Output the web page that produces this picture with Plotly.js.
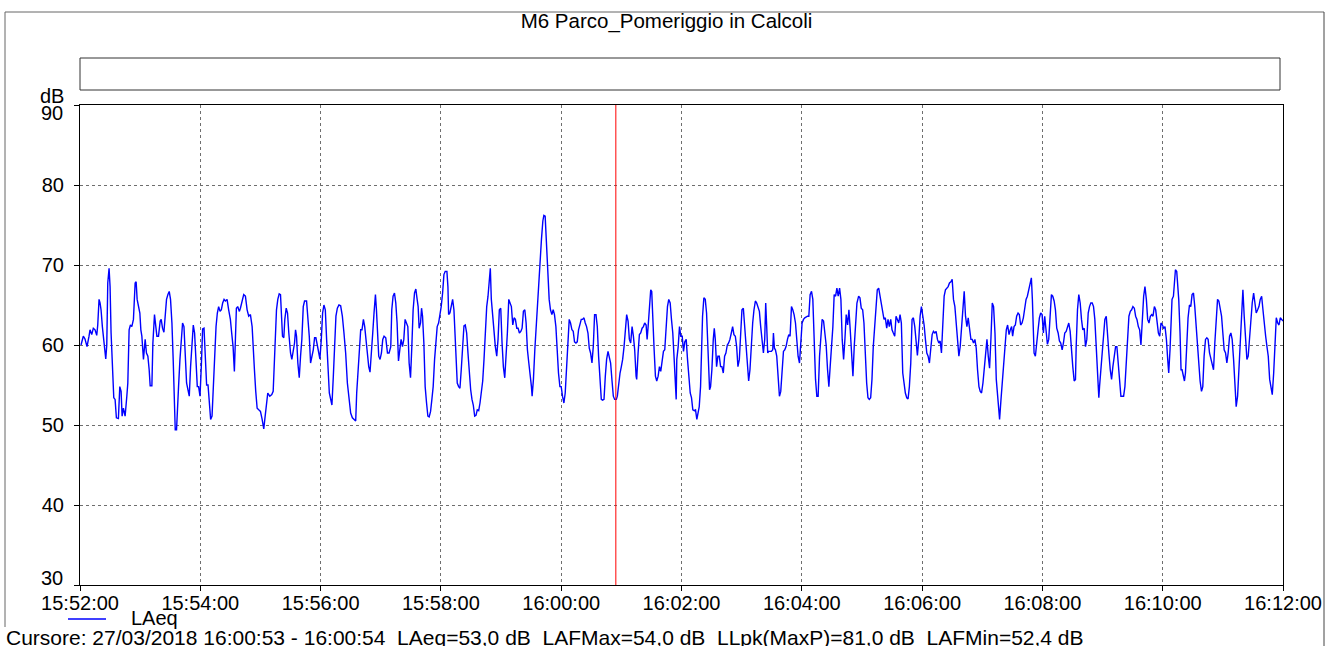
<!DOCTYPE html>
<html>
<head>
<meta charset="utf-8">
<script src="https://cdn.plot.ly/plotly-3.0.1.min.js"></script>
<style>
html,body{margin:0;padding:0;background:#fff;}
#chart{width:1333px;height:646px;}
</style>
</head>
<body>
<div id="chart"></div>
<script>
// ---- DATA (seconds after 15:52:00, LAeq dB) ----
const cursorTime = 534.5; // seconds after start (16:00:54)
const chartTitle = "M6 Parco_Pomeriggio in Calcoli";
const yUnit = "dB";
const seriesName = "LAeq";
const cursorText = "Cursore: 27/03/2018 16:00:53 - 16:00:54\u00a0 LAeq=53,0 dB\u00a0 LAFMax=54,0 dB\u00a0 LLpk(MaxP)=81,0 dB\u00a0 LAFMin=52,4 dB";
const xTickLabels = ["15:52:00","15:54:00","15:56:00","15:58:00","16:00:00","16:02:00","16:04:00","16:06:00","16:08:00","16:10:00","16:12:00"];
const yTicks = [30,40,50,60,70,80,90];
const yTickLabels = ["30","40","50","60","70","80","90"];

const segA = [[1,60.0],[3.3,61.1],[5,60.75],[7,59.8],[9,61.1],[10,61.9],[11.7,61.3],[13.3,62.1],[15,61.9],[16.7,61.2],[17.7,62.5],[19,65.7],[20,65.25],[21,64.4],[22.3,62.3],[24.3,59.4],[25.7,58.25],[26.7,60.0],[27.7,67.75],[29,69.6],[30,67.3],[31,61.5],[32.3,56.9],[33.7,53.4],[35,53.2],[36.3,50.9],[38.3,50.8],[39.7,54.8],[41,54.2],[42,51.1],[43.3,52.1],[45,51.1],[46.7,53.6],[47.7,55.25],[49,61.9],[50.3,62.5],[51.7,62.3],[53.3,63.2],[55,67.75],[56,67.9],[57,65.7],[58.3,64.8],[59.7,64.0],[60.7,61.9],[61.7,61.1],[63.3,58.2],[65,60.7],[66.3,59.0],[67.7,58.6],[69,56.9],[70,54.9],[71.7,54.9],[72.7,60.25],[74.3,63.8],[75.7,62.5],[76.7,61.1],[78.3,61.1],[80,63.0],[81,63.2],[82.3,62.1],[83.7,61.6],[85,63.2],[86.3,65.7],[87.7,66.3],[89,66.7],[90.3,65.7],[91.7,62.75],[93,58.0],[94.3,53.2],[95,49.4],[96.3,49.4],[97.3,51.5],[98.3,54.8],[99.7,58.2],[101,60.7],[102.3,62.75],[103.7,62.3],[105,58.2],[106.3,55.25],[107.7,54.4],[109,53.6],[110.3,57.3],[111.7,60.7],[113,62.5],[114.3,61.5],[115.7,58.6],[117,54.8],[118.3,54.8],[119.7,53.6],[121,57.3],[122.3,62.0],[123.7,62.1],[125,59.0],[126.3,55.0],[127.7,55.0],[129,52.3],[130.3,50.7],[131.7,51.1],[133,54.8],[134.3,58.2],[135.7,62.3],[137,64.0],[138.3,64.8],[139.7,64.2],[141,64.4],[142.3,65.25],[143.7,65.7],[145,65.5],[146.7,65.7],[148.3,64.4],[150,63.2],[151.3,61.5],[152.7,59.8],[154,56.7]];

const segB = [[155,60.25],[156,64.6],[157.3,64.8],[159,64.2],[160,64.6],[161.7,65.7],[163.3,66.3],[165,66.1],[166.7,64.4],[168.3,63.6],[170,63.8],[171.7,62.3],[172.7,59.4],[174,56.9],[175.3,54.2],[176.7,52.1],[178.3,51.9],[180,51.7],[181.7,50.7],[183.3,49.5],[184.7,51.1],[186,52.3],[187.3,54.0],[189.3,53.6],[191.3,53.8],[192.7,54.2],[194,57.75],[195,61.5],[196,64.4],[197.3,65.7],[198.7,66.4],[200,66.3],[201,63.6],[202,61.1],[203.3,60.9],[204.3,63.2],[205.7,64.6],[207,64.0],[208.3,61.5],[210,59.0],[211.3,58.2],[212.7,59.4],[214,60.25],[215,61.9],[216,61.1],[217.3,57.75],[218.7,55.9],[220,58.6],[221.3,60.7],[222.7,64.8],[224,65.5],[226,65.5],[227.3,63.6],[228.7,61.1],[230,57.75],[231.3,58.6],[232.7,59.4],[234,60.9],[235.3,60.9],[236.7,60.0],[238,59.0],[239.3,58.25],[240.7,60.7],[242,64.0],[243.3,65.0],[244.7,64.4],[246,60.7],[247.3,57.3],[248.7,54.0],[250,53.25],[251.3,52.5],[252.7,56.1],[254,60.25],[255.3,63.6],[256.7,64.6],[258.3,65.0],[260,64.9],[261.7,63.6],[263.3,61.5],[265,59.0],[266.7,55.25],[268.3,53.0],[270,51.5],[271.7,50.9],[273.3,50.7],[275,50.5],[276,54.0],[277.3,56.9],[278.7,59.4],[280,61.9],[281.3,61.9],[282.7,63.2],[284,62.3],[285.3,60.7],[286.7,58.4],[288,57.3],[289.3,56.6],[290.7,58.6],[292,61.5],[293.3,64.0],[294.7,66.3],[295.7,64.4],[296.7,61.5],[298,58.6],[299.3,58.2],[300.7,59.0],[302,60.7],[303.3,61.1],[305,60.9],[306.7,59.0],[308.3,59.0],[310,59.8]];

const segC = [[311,64.4],[312.3,66.1],[313.7,66.5],[315,65.25],[316.3,62.75],[317.7,58.0],[319,59.4],[320.3,60.7],[321.7,59.8],[323,60.7],[324.3,63.2],[325.7,62.75],[327,62.3],[328.3,57.75],[329.7,55.9],[331,59.8],[332.3,64.4],[333.7,66.5],[335,67.0],[336.3,65.7],[337.3,64.8],[338.3,62.1],[339.7,62.75],[340.7,64.6],[341.7,63.6],[343,60.25],[344.3,54.8],[345.7,52.75],[347,51.1],[348.3,51.0],[349.7,51.7],[351,53.2],[352.3,54.8],[353.7,58.2],[355,60.7],[356.3,62.3],[357.7,62.75],[359,63.6],[360.3,64.8],[361.7,66.5],[363,68.8],[364.3,69.2],[366,69.2],[367,67.3],[367.7,63.8],[369,64.0],[370.3,65.0],[371.7,65.7],[373,64.4],[374,61.5],[375,58.2],[376.3,55.25],[377.7,54.8],[379,54.6],[380.3,56.9],[381.7,60.25],[383,62.4],[384.3,62.5],[385.7,61.5],[387,59.0],[388.3,56.5],[389.7,54.4],[391,53.2],[392.3,52.5],[393.7,51.1],[395,51.2],[396.3,51.9],[397.7,51.8],[399,52.75],[400.3,54.0],[401.7,55.5],[403,58.2],[404.3,61.5],[405.7,64.8],[407,66.1],[408.3,67.75],[409.3,69.6],[410.3,65.7],[411.7,63.6],[413,61.5],[414.3,59.8],[415.7,58.6],[417,60.7],[418.3,64.4],[419.7,64.6],[421,60.25],[422.3,57.3],[423.7,55.9],[425,58.2],[426.3,61.5],[427.7,65.7],[429,65.25],[430.3,64.8],[431.7,62.5],[433,63.4],[434.3,63.2],[435.7,62.1],[437,62.1],[438.3,61.5],[439.7,61.7],[441,62.1],[442.3,64.2],[443.7,64.4],[445,62.75],[446.3,59.4],[447.7,57.75],[449,56.5],[450.3,54.8],[451,53.6],[452.3,55.7],[453.7,59.4],[455,62.3],[456.3,65.7],[457.7,68.6],[459,70.5],[460.3,73.2],[461.7,75.5]];

const segD = [[462.7,76.2],[464,76.1],[465,73.2],[466,69.8],[467,68.1],[468,65.7],[469.3,64.4],[470.7,63.8],[472,64.4],[473.3,63.8],[474.7,62.3],[476,59.0],[477.3,56.5],[478.7,54.8],[480,54.8],[481.3,53.6],[482.7,52.75],[484,54.0],[485.3,56.9],[486.7,60.25],[488,63.2],[489.3,62.75],[490.7,61.9],[492,61.7],[493.3,60.4],[494.7,60.25],[496,60.4],[497.3,61.9],[498.7,62.75],[500,63.2],[501.3,63.2],[502.7,63.4],[504,62.75],[505.3,62.3],[506.7,61.5],[508,59.6],[509.3,59.0],[510.7,57.75],[512,59.8],[513.3,63.8],[514.7,63.8],[516,62.3],[517.3,58.6],[518.7,54.8],[520,53.2],[521.3,53.1],[522.7,53.2],[524,56.1],[525.3,58.2],[526.7,59.2],[528,58.6],[529.3,57.75],[530.7,55.5],[532,53.6],[533.3,53.2],[535,53.2],[536,53.6],[537.3,55.25],[538.7,56.5],[540,57.3],[541.3,58.2],[542.7,59.8],[544,62.3],[545.3,63.8],[546.7,63.0],[548,60.7],[549.3,60.25],[550.7,62.3],[552,61.1],[553.3,59.4],[554.7,56.1],[555.3,55.7],[556.7,59.0],[558,61.3],[559.3,61.5],[560.7,62.1],[562,62.3],[563.3,62.75],[564.7,62.5],[565.7,60.7],[566.7,62.3],[568,64.4],[569.3,66.9],[570.3,66.7],[571.3,62.75],[572.7,59.4],[574,56.1],[575.3,55.5],[576.7,56.1],[578,57.3],[579.3,56.7],[580.7,58.4],[582,59.2],[583.3,59.4],[584.7,61.9],[586,64.8],[587.3,65.7],[588.7,65.25],[590,63.2],[591.3,61.5],[592.7,58.2],[594,55.25],[594.7,53.2],[595.3,58.2],[596.7,59.8],[598,62.3],[599.3,61.1],[600.7,61.1],[602,59.2],[603.3,60.4],[604.7,60.7],[606,58.2],[607.3,56.1],[608.7,54.0],[610,53.4],[611.3,51.9],[612.7,51.8],[614,51.9],[615.3,50.7]];

const segE = [[617.7,52.3],[619,54.8],[620,59.0],[621,63.6],[622.3,65.9],[623.7,65.7],[625,64.0],[626,60.7],[627,58.2],[628,54.4],[629,54.8],[630.3,56.9],[631.7,60.7],[632.7,62.1],[633.7,60.7],[635,57.3],[636.3,58.6],[637.7,58.6],[639,57.3],[640.3,57.3],[641.7,56.5],[643,58.6],[644.3,59.0],[645.7,60.0],[647,60.25],[648.3,60.7],[649.7,61.5],[651,62.3],[652.3,61.3],[653.7,61.1],[655,59.8],[656.3,57.3],[657.7,58.2],[659,62.3],[660.3,64.4],[661.7,64.6],[663,62.3],[664.3,59.8],[665.7,56.9],[667,55.5],[668.3,56.9],[669.7,60.7],[671,62.75],[672.3,64.4],[673.7,65.5],[675,65.25],[676.3,64.6],[677.7,64.2],[679,62.3],[680.3,60.7],[681.7,59.0],[683,60.7],[684,65.25],[685,62.3],[686,59.0],[687,59.2],[689.7,59.2],[691,59.4],[691.7,61.5],[692.7,59.6],[693.7,59.4],[695,58.6],[696.3,55.5],[697.7,53.6],[699,54.2],[700.3,57.3],[701.7,59.2],[703,59.4],[704.3,59.8],[705.7,60.7],[707,61.3],[708.3,61.1],[709.7,64.8],[711,64.4],[712.3,63.8],[713.7,62.75],[715,60.7],[716.3,58.6],[717.7,57.75],[719,59.8],[720.3,62.75],[721.7,63.2],[723,63.4],[725.7,63.6],[727,63.6],[728.3,66.3],[729.7,66.7],[731,65.7],[732.3,60.7],[733.7,55.7],[735,53.6],[736.3,53.6],[737.7,58.6],[739,60.7],[740.3,63.2],[741.7,63.0],[743,61.5],[744.3,60.0],[745.7,56.9],[747,54.8],[748.3,57.3],[749.7,59.8],[751,62.3],[752.3,66.3],[753.7,66.1],[755,67.1],[756.3,66.1],[757.7,67.1],[759,65.7],[760.3,60.7],[761.7,58.2],[763,60.7],[764.3,63.8],[765.7,62.5],[767,64.4],[768.3,61.9],[769.7,58.2],[771,56.1],[772.3,59.8],[773.7,62.3],[775,65.25]];

const segF = [[776.7,66.1],[778,65.9],[779.3,64.6],[780.7,64.4],[782,62.75],[783.3,58.6],[784.7,55.25],[786,53.4],[787.3,53.2],[788.7,53.4],[790,55.7],[791.3,59.8],[792.7,62.75],[794,65.7],[795.3,66.9],[796.7,67.1],[798,66.1],[799.3,64.8],[800.7,63.8],[802,63.2],[803.3,63.4],[804.7,62.1],[806,63.2],[807.3,62.3],[808.7,63.2],[810,61.9],[811.3,61.5],[812.7,61.1],[814,63.6],[815.3,63.2],[816.7,62.75],[818,63.8],[819.3,62.75],[820.7,56.5],[822,55.0],[823.3,54.0],[824.7,53.4],[826,53.25],[827.3,54.8],[828.7,57.75],[830,63.2],[831.3,63.4],[832.7,62.3],[834,59.8],[835.3,58.7],[836.7,60.7],[838,63.6],[839.3,64.8],[840.7,63.8],[842,62.5],[843.3,60.7],[844.7,59.0],[846,58.6],[847.3,57.75],[848.7,59.6],[850,61.3],[851.3,61.7],[852.7,61.5],[854,61.7],[855.3,60.7],[856.7,60.25],[858,60.5],[859.3,59.0],[860.7,63.6],[862,66.1],[863.3,66.9],[864.7,67.1],[866,67.3],[867.3,67.75],[868.7,67.9],[870,68.2],[871.3,65.7],[872.7,64.8],[874,62.75],[875.3,60.25],[876.7,58.6],[878,59.8],[879.3,62.3],[880.7,64.8],[882,66.7],[883.3,63.6],[884.7,62.3],[886,63.4],[887.3,61.9],[888.7,60.7],[890,60.7],[891.3,60.25],[892.7,60.7],[894,59.6],[895.3,56.9],[896.7,54.8],[898,54.2],[899.3,54.0],[900.7,55.25],[902,57.3],[903.3,59.0],[904.7,60.7],[906,58.6],[907.3,57.1],[908.7,60.9],[910,65.25],[911.3,64.8],[912.7,61.5],[914,55.7],[915.3,54.0],[916.7,51.5],[917.3,50.7],[918.7,53.2],[920,55.25],[921.3,57.3],[922.7,60.7],[924,61.9],[925.3,62.5],[926.7,61.3],[928,61.9],[929.3,62.3]];

const segG = [[930.3,61.1],[931.7,62.3],[933,62.5],[934.3,63.6],[935.7,64.0],[937,63.8],[938.3,62.5],[939.7,62.75],[941,63.4],[942.3,64.4],[943.7,65.7],[945,66.1],[946.3,66.9],[947.7,67.75],[949,68.4],[950,65.7],[951,61.5],[951.7,59.0],[953,58.6],[954.3,60.7],[955.7,61.9],[957,63.4],[958.3,64.0],[959.7,63.8],[961,61.5],[962.3,63.6],[963.7,61.9],[965,60.1],[966.3,60.7],[967.7,64.4],[969,66.3],[970.3,66.1],[971.7,65.5],[973,64.4],[974.3,62.1],[975.7,61.5],[977,60.5],[978.3,60.25],[979.7,59.4],[981,60.25],[982.3,61.5],[983.7,61.7],[985,62.3],[986.3,62.75],[987.7,61.7],[989,59.0],[990.3,57.3],[991.7,55.5],[993,55.7],[993.7,59.8],[995,64.4],[996.3,66.3],[997.7,65.25],[999,63.2],[1000.3,61.9],[1001.7,62.1],[1003,59.8],[1004.3,60.7],[1005.7,64.0],[1007,64.8],[1008.3,65.25],[1009.7,65.25],[1011,64.8],[1012.3,63.2],[1013.7,59.8],[1015,56.9],[1016.3,53.4],[1017,54.8],[1018.3,56.9],[1019.7,58.6],[1021,60.7],[1022.3,63.2],[1023.7,63.6],[1025,60.7],[1026.3,59.0],[1027.7,56.9],[1029,55.7],[1030.3,57.3],[1031.7,59.0],[1033,59.8],[1034.3,59.8],[1035.7,57.3],[1037,55.25],[1038.3,53.6],[1039.7,53.6],[1041,53.6],[1042.3,54.8],[1043.7,58.2],[1045,61.9],[1046.3,63.6],[1047.7,64.2],[1049,64.4],[1050.3,64.8],[1051.7,64.6],[1053,63.6],[1054.3,63.2],[1055.7,62.3],[1057,61.9],[1058.3,60.0],[1059.7,64.0],[1061,66.1],[1062.3,67.3],[1063.7,65.7],[1065,63.2],[1066.3,62.75],[1067.7,63.6],[1069,63.8],[1070.3,63.6],[1071.7,64.8],[1073,64.4],[1074.3,62.75],[1075.7,61.5],[1077,61.1],[1078.3,62.75],[1079.7,62.5],[1081,62.1],[1082.3,62.3],[1083.7,60.7],[1085,58.2]];

const segH = [[1086,56.5],[1087.3,59.4],[1088.3,62.75],[1089.3,65.7],[1090.7,66.1],[1091.7,67.75],[1092.7,69.4],[1094,69.2],[1095,67.75],[1096,65.7],[1097.3,61.5],[1098.3,56.9],[1099.3,56.9],[1100.7,56.1],[1101.7,55.5],[1102.7,56.5],[1104,61.1],[1105.3,63.4],[1106.7,65.0],[1108,64.8],[1109.3,66.3],[1110.7,66.5],[1112,64.8],[1113.3,62.5],[1114.7,59.8],[1116,57.3],[1117.3,55.5],[1118.7,54.2],[1120,54.8],[1121.3,58.6],[1122.7,60.7],[1124,60.9],[1125.3,60.7],[1126.7,59.0],[1128,58.2],[1129.3,57.75],[1130.7,56.9],[1132,60.25],[1133.3,63.6],[1134.7,65.7],[1136,65.5],[1137.3,64.4],[1138.7,63.6],[1140,61.5],[1141.3,59.4],[1142.7,59.0],[1144,57.75],[1145.3,59.0],[1146.7,61.1],[1148,61.5],[1149.3,60.7],[1150.7,58.2],[1152,55.25],[1153.3,52.3],[1154.7,53.6],[1156,57.3],[1157.3,61.1],[1158.7,64.8],[1160,66.9],[1161.3,63.6],[1162.7,60.25],[1164,58.2],[1165.3,58.6],[1166.7,60.7],[1168,63.6],[1169.3,65.25],[1170.7,66.5],[1172,64.8],[1173.3,64.0],[1174.7,64.4],[1176,64.8],[1177.3,65.7],[1178.7,66.1],[1180,64.4],[1181.3,62.3],[1182.7,61.1],[1184,59.8],[1185.3,58.6],[1186.7,55.7],[1188,54.4],[1189.3,53.8],[1190.7,56.5],[1192,60.7],[1193.3,63.4],[1194.7,62.75],[1196,62.5],[1197.3,63.4],[1198.7,63.2],[1200,63.0]];

// ---- BUILD ----
const samples = [].concat(segA, segB, segC, segD, segE, segF, segG, segH);
const base = Date.UTC(2018, 2, 27, 15, 52, 0);
const xs = samples.map(p => base + p[0] * 1000);
const ys = samples.map(p => p[1]);
const tickVals = xTickLabels.map((_, i) => base + i * 120000);

// layout geometry (pixels in the 1333x646 page)
const L = 80, R = 1283, T = 105, B = 585;
const fx = px => (px - L) / (R - L);
const fy = py => (B - py) / (B - T);
const FONT = 'Arial, "Liberation Sans", sans-serif';
const txt = (text, px, py, anchor, size) => ({
  text: text, xref: 'paper', yref: 'paper', x: fx(px), y: fy(py),
  xanchor: anchor, yanchor: 'middle', showarrow: false,
  font: {family: FONT, size: size || 20, color: '#000'}
});

const trace = {
  x: xs, y: ys, type: 'scatter', mode: 'lines', name: seriesName,
  line: {color: '#0000ff', width: 1.4}, hoverinfo: 'skip', showlegend: false
};

// the first and last y labels sit inside the axis range in the reference
const innerTicks = yTicks.slice(1, -1);
const innerLabels = yTickLabels.slice(1, -1);

const layout = {
  width: 1333, height: 646,
  margin: {l: L, r: 1333 - R, t: T, b: 646 - B, pad: 0},
  paper_bgcolor: '#ffffff', plot_bgcolor: '#ffffff',
  font: {family: FONT, size: 20, color: '#000'},
  title: {text: chartTitle, font: {family: FONT, size: 20.5, color: '#000'},
          x: 0.5, xref: 'container', xanchor: 'center',
          y: 1 - 21 / 646, yref: 'container', yanchor: 'middle'},
  xaxis: {
    type: 'date', range: [base, base + 1200000],
    tickmode: 'array', tickvals: tickVals, ticktext: xTickLabels,
    ticks: 'outside', ticklen: 5, tickcolor: '#000', ticklabelstandoff: -5,
    showgrid: true, gridcolor: '#6e6e6e', griddash: 'dot', gridwidth: 1,
    showline: true, linecolor: '#000', linewidth: 1, mirror: true,
    zeroline: false, tickfont: {family: FONT, size: 20, color: '#000'}
  },
  yaxis: {
    range: [30, 90], tickmode: 'array', tickvals: yTicks,
    ticktext: yTicks.map(v => innerTicks.includes(v) ? innerLabels[innerTicks.indexOf(v)] : ''),
    ticks: 'outside', ticklen: 5, tickcolor: '#000', ticklabelstandoff: 6,
    showgrid: true, gridcolor: '#6e6e6e', griddash: 'dot', gridwidth: 1,
    showline: true, linecolor: '#000', linewidth: 1, mirror: true,
    zeroline: false, tickfont: {family: FONT, size: 20, color: '#000'}
  },
  shapes: [
    // outer frame (top, left, right)
    {type: 'line', xref: 'paper', yref: 'paper', x0: fx(5), x1: fx(1324), y0: fy(12), y1: fy(12), line: {color: '#666', width: 1}},
    {type: 'line', xref: 'paper', yref: 'paper', x0: fx(5), x1: fx(5), y0: fy(12), y1: fy(627), line: {color: '#666', width: 1}},
    {type: 'line', xref: 'paper', yref: 'paper', x0: fx(1324), x1: fx(1324), y0: fy(12), y1: fy(646), line: {color: '#444', width: 1}},
    // empty box under the title
    {type: 'rect', xref: 'paper', yref: 'paper', x0: fx(80), x1: fx(1280), y0: fy(90), y1: fy(58),
     line: {color: '#333', width: 1}, fillcolor: 'rgba(0,0,0,0)'},
    // cursor line
    {type: 'line', xref: 'x', yref: 'paper', x0: base + cursorTime * 1000, x1: base + cursorTime * 1000,
     y0: 0, y1: 1, line: {color: '#ff0000', width: 1}},
    // legend line
    {type: 'line', xref: 'paper', yref: 'paper', x0: fx(68), x1: fx(106), y0: fy(619), y1: fy(619),
     line: {color: '#0000ff', width: 1.4}}
  ],
  annotations: [
    txt(yUnit, 52, 96, 'center'),
    txt(yTickLabels[yTickLabels.length - 1], 65, 113, 'right'),
    txt(yTickLabels[0], 65, 578, 'right'),
    txt(seriesName, 129, 618, 'left'),
    txt(cursorText, 4, 637, 'left', 21)
  ],
  showlegend: false
};

Plotly.newPlot('chart', [trace], layout, {staticPlot: true, displayModeBar: false});
</script>
</body>
</html>
